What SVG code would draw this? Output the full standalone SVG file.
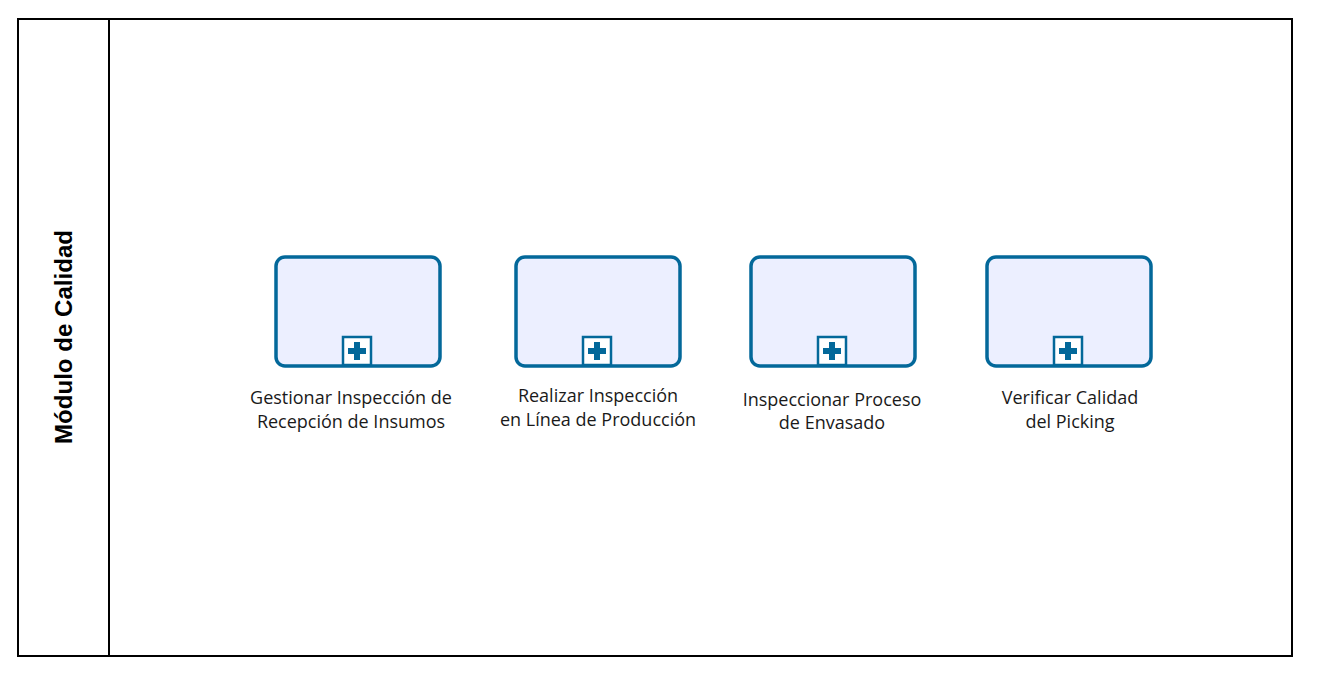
<svg xmlns="http://www.w3.org/2000/svg" width="1318" height="682" viewBox="0 0 1318 682">
<style>
.lane{fill:#fff;stroke:#000;stroke-width:2}
.task{fill:#ecefff;stroke:#03689a;stroke-width:3.5}
.mk{fill:#fff;stroke:#03689a;stroke-width:2.5}
.plus{fill:#03689a}
.lbl{font-family:"Open Sans","Noto Sans",sans-serif;font-size:18px;fill:#1a1a1a;text-anchor:middle}
.title{font-family:"Liberation Sans",Arial,sans-serif;font-size:23px;font-weight:bold;fill:#000;text-anchor:middle}
</style>
<defs>
<g id="sub">
<rect class="mk" x="-14" y="-14" width="28" height="28"/>
<path class="plus" d="M-3,-9h6v6h6v6h-6v6h-6v-6h-6v-6h6z"/>
</g>
</defs>
<g id="lane">
<rect class="lane" x="18" y="19" width="1274" height="637"/>
<line x1="109" y1="19" x2="109" y2="656" stroke="#000" stroke-width="2"/>
<text class="title" transform="translate(72,337) rotate(-90)" textLength="214" lengthAdjust="spacingAndGlyphs">Módulo de Calidad</text>
</g>
<g id="connectors"></g>
<g id="task1">
<rect class="task" x="276" y="257" width="164" height="109" rx="9"/>
<use href="#sub" x="357" y="351"/>
<text class="lbl" x="351" y="404">Gestionar Inspección de</text>
<text class="lbl" x="351" y="428">Recepción de Insumos</text>
</g>
<g id="task2">
<rect class="task" x="516" y="257" width="164" height="109" rx="9"/>
<use href="#sub" x="597" y="351"/>
<text class="lbl" x="598" y="402">Realizar Inspección</text>
<text class="lbl" x="598" y="426">en Línea de Producción</text>
</g>
<g id="task3">
<rect class="task" x="751" y="257" width="164" height="109" rx="9"/>
<use href="#sub" x="832" y="351"/>
<text class="lbl" x="832" y="406">Inspeccionar Proceso</text>
<text class="lbl" x="832" y="429">de Envasado</text>
</g>
<g id="task4">
<rect class="task" x="987" y="257" width="164" height="109" rx="9"/>
<use href="#sub" x="1068" y="351"/>
<text class="lbl" x="1070" y="404">Verificar Calidad</text>
<text class="lbl" x="1070" y="428">del Picking</text>
</g>
</svg>
